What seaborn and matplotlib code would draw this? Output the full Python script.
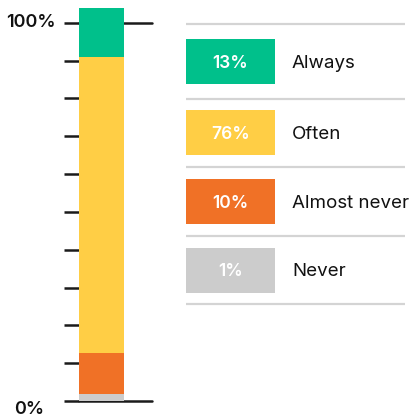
import matplotlib
matplotlib.use("Agg")
import matplotlib.pyplot as plt
import numpy as np
import pandas as pd
import seaborn as sns

# answers, top to bottom (as in the legend)
answers = ["Always", "Often", "Almost never", "Never"]
shares = [13, 76, 10, 1]                  # labels printed in the legend boxes
bar_heights = [13.0, 78.2, 10.8, 1.9]     # segment heights as drawn on the axis
colors = ["#00C08B", "#FFCE45", "#F07126", "#CCCCCC"]
tick_labels = {0: "0%", 100: "100%"}

sns.set_theme(style="white")
plt.rcParams["font.family"] = ["Inter", "DejaVu Sans"]

W, H = 414, 418
fig = plt.figure(figsize=(W / 100, H / 100), dpi=100)

# ---- stacked bar ------------------------------------------------------
px_per_unit = 3.783
y0_px = 401                      # pixel row of 0%
ymax = 104
ax_h = ymax * px_per_unit
ax_left, ax_right = 79, 152
ax = fig.add_axes([ax_left / W, (H - y0_px) / H, (ax_right - ax_left) / W, ax_h / H])

df = pd.DataFrame({"answer": answers, "height": bar_heights, "color": colors})
df = df.iloc[::-1].reset_index(drop=True)       # bottom to top
df["top"] = df["height"].cumsum()
df["group"] = "all"

bar_w = 0.8
for i in range(len(df) - 1, -1, -1):
    row = df.iloc[[i]]
    sns.barplot(data=row, x="group", y="top", color=row["color"].iloc[0],
                saturation=1, width=bar_w, linewidth=0, ax=ax, zorder=3)

ax.set_xlim(-bar_w / 2, -bar_w / 2 + bar_w * (ax_right - ax_left) / 45)
ax.set_ylim(0, ymax)
ax.set_xlabel("")
ax.set_ylabel("")
ax.set_xticks([])
for s in ax.spines.values():
    s.set_visible(False)

tick_col = "#1a1a1a"
ax.set_yticks(list(tick_labels.keys()))
ax.set_yticks(np.arange(10, 100, 10), minor=True)
ax.yaxis.set_ticks_position("left")
ax.tick_params(axis="y", which="both", direction="out", length=10.8,
               width=1.8, color=tick_col, labelleft=False)
for v in tick_labels:
    ax.axhline(v, color=tick_col, lw=1.8, zorder=1, clip_on=False)

lab_kw = dict(textcoords="offset pixels", ha="center", va="center",
              fontsize=13, fontweight="semibold", color="#111111",
              annotation_clip=False)
ax.annotate(tick_labels[100], xy=(0, 100), xycoords=ax.get_yaxis_transform(),
            xytext=(-48, 0), **lab_kw)
ax.annotate(tick_labels[0], xy=(0, 0), xycoords=ax.get_yaxis_transform(),
            xytext=(-50, -8), **lab_kw)

# ---- legend -----------------------------------------------------------
lg = fig.add_axes([0, 0, 1, 1])
lg.set_xlim(0, W)
lg.set_ylim(H, 0)
lg.axis("off")

sep_lines = [24, 98.5, 167, 236, 304]
box_x, box_w, box_h = 186, 89, 45
row_centers = [61.5, 132.5, 201, 270]
lg.hlines(sep_lines, 186, 405, color="#D4D4D4", lw=1.6)
lg.barh(row_centers, [box_w] * len(answers), height=box_h, left=box_x,
        color=colors, linewidth=0)
for yc, s, name in zip(row_centers, shares, answers):
    lg.text(box_x + box_w / 2, yc, f"{s}%", ha="center", va="center_baseline",
            fontsize=12.5, fontweight="semibold", color="white")
    lg.text(292, yc, name, ha="left", va="center_baseline",
            fontsize=13.5, color="#111111")

fig.savefig("out.png", dpi=100)
